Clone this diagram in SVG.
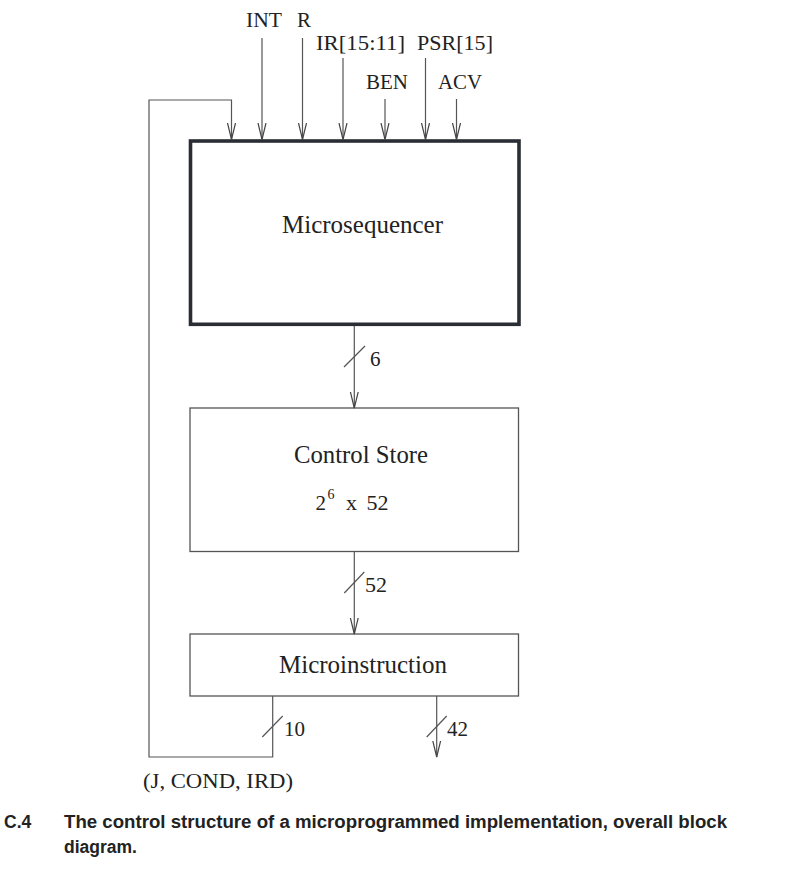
<svg xmlns="http://www.w3.org/2000/svg" width="796" height="873" viewBox="0 0 796 873">
<style>
.t{font-family:"Liberation Serif","Times New Roman",serif;fill:#222;}
.lb{font-size:21px;}
.bx{font-size:25px;}
.ln{fill:none;stroke:#555;stroke-width:1.2;}
.thin{fill:#fff;stroke:#555;stroke-width:1.3;}
.thick{fill:#fff;stroke:#2a2d33;stroke-width:3.6;}
.cap{font-family:"Liberation Sans",Arial,sans-serif;font-weight:bold;font-size:17.5px;fill:#222;}
</style>
<defs>
<marker id="arr" viewBox="0 0 17 10" refX="16.5" refY="5" markerWidth="17" markerHeight="10" markerUnits="userSpaceOnUse" orient="auto">
<path d="M0,1 L16.5,5 L0,9" fill="none" stroke="#444" stroke-width="1.2"/>
</marker>
</defs>
<rect width="796" height="873" fill="#fff"/>
<g id="microsequencer">
<rect class="thick" x="190.5" y="141" width="328.5" height="183.3"/>
<text class="t bx" x="282" y="233" textLength="161" lengthAdjust="spacingAndGlyphs">Microsequencer</text>
</g>
<g id="control-store">
<rect class="thin" x="190" y="408" width="328.5" height="143.5"/>
<text class="t bx" x="294" y="463" textLength="134" lengthAdjust="spacingAndGlyphs">Control Store</text>
<text class="t" font-size="21" x="315.5" y="510">2</text>
<text class="t" font-size="14" x="327.5" y="499">6</text>
<text class="t" font-size="22" x="346" y="510">x</text>
<text class="t" font-size="22" x="366.5" y="510">52</text>
</g>
<g id="microinstruction">
<rect class="thin" x="190" y="634" width="328.5" height="62"/>
<text class="t bx" x="279" y="673" textLength="168" lengthAdjust="spacingAndGlyphs">Microinstruction</text>
</g>
<g id="connectors">
<polyline class="ln" points="272.7,696 272.7,757 149,757 149,100 231.5,100 231.5,139.5" marker-end="url(#arr)"/>
<line class="ln" x1="262" y1="38" x2="262" y2="139.5" marker-end="url(#arr)"/>
<line class="ln" x1="302.5" y1="38" x2="302.5" y2="139.5" marker-end="url(#arr)"/>
<line class="ln" x1="343" y1="58" x2="343" y2="139.5" marker-end="url(#arr)"/>
<line class="ln" x1="385" y1="99" x2="385" y2="139.5" marker-end="url(#arr)"/>
<line class="ln" x1="425.5" y1="58" x2="425.5" y2="139.5" marker-end="url(#arr)"/>
<line class="ln" x1="456.5" y1="99" x2="456.5" y2="139.5" marker-end="url(#arr)"/>
<line class="ln" x1="354.3" y1="326" x2="354.3" y2="408" marker-end="url(#arr)"/>
<line class="ln" x1="354.3" y1="552" x2="354.3" y2="634" marker-end="url(#arr)"/>
<line class="ln" x1="436.7" y1="696" x2="436.7" y2="757" marker-end="url(#arr)"/>
<line class="ln" x1="344" y1="367" x2="365" y2="346"/>
<line class="ln" x1="344.3" y1="593" x2="364.3" y2="572"/>
<line class="ln" x1="262.3" y1="737" x2="282.7" y2="716"/>
<line class="ln" x1="426.7" y1="737" x2="446.7" y2="716"/>
</g>
<g id="labels">
<text class="t lb" x="246" y="27" textLength="36" lengthAdjust="spacingAndGlyphs">INT</text>
<text class="t lb" x="297" y="27">R</text>
<text class="t lb" x="316" y="50" textLength="89" lengthAdjust="spacingAndGlyphs">IR[15:11]</text>
<text class="t lb" x="417" y="50" textLength="76" lengthAdjust="spacingAndGlyphs">PSR[15]</text>
<text class="t lb" x="366" y="89" textLength="42" lengthAdjust="spacingAndGlyphs">BEN</text>
<text class="t lb" x="438" y="89" textLength="44" lengthAdjust="spacingAndGlyphs">ACV</text>
<text class="t lb" x="370" y="366">6</text>
<text class="t" font-size="22" x="365" y="592">52</text>
<text class="t lb" x="284" y="736">10</text>
<text class="t lb" x="447" y="736">42</text>
<text class="t" font-size="22" x="143" y="788" textLength="150" lengthAdjust="spacingAndGlyphs">(J, COND, IRD)</text>
</g>
<g id="caption">
<text class="cap" x="4" y="828">C.4</text>
<text class="cap" x="64" y="828" textLength="663" lengthAdjust="spacingAndGlyphs">The control structure of a microprogrammed implementation, overall block</text>
<text class="cap" x="64" y="853">diagram.</text>
</g>
</svg>
